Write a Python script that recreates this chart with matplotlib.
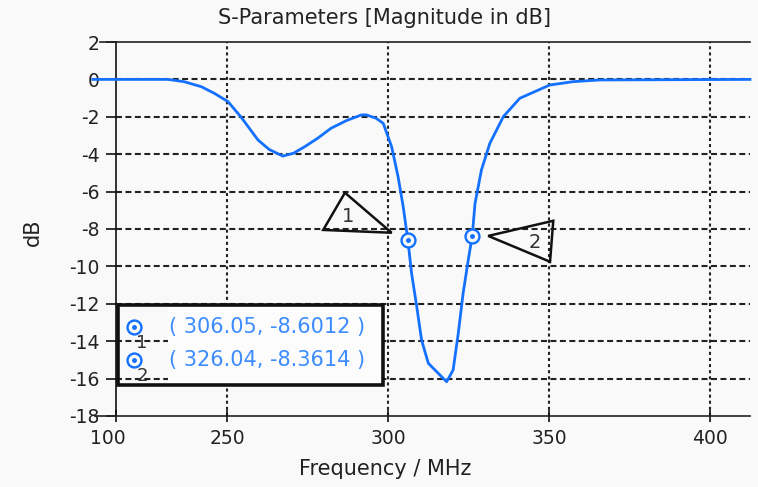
import matplotlib
matplotlib.use('Agg')
import matplotlib.pyplot as plt
from matplotlib.patches import Polygon, Rectangle
from matplotlib.lines import Line2D
from matplotlib.transforms import ScaledTranslation

# ---- data ----
freq_mhz = [208.2, 215.4, 231.5, 236.5, 241.9, 246.0, 250.2, 254.3, 259.5, 263.0,
            267.2, 270.5, 274.0, 278.0, 282.2, 287.0, 291.6, 293.2, 296.2, 298.4,
            301.0, 303.0, 304.6, 306.05, 307.2, 308.8, 310.3, 312.4, 315.5, 318.1,
            320.1, 321.7, 323.2, 324.8, 326.04, 326.9, 328.9, 331.5, 335.7, 340.8,
            350.1, 357.4, 365.7, 412.3]
s_db = [0.0, 0.0, 0.0, -0.12, -0.39, -0.75, -1.19, -2.03, -3.24, -3.75,
        -4.10, -3.95, -3.60, -3.15, -2.61, -2.20, -1.90, -1.90, -2.08, -2.35,
        -3.60, -5.20, -6.81, -8.6012, -10.37, -12.15, -13.94, -15.18, -15.72, -16.17,
        -15.54, -13.58, -11.44, -9.66, -8.3614, -6.63, -4.84, -3.42, -1.99, -1.01,
        -0.30, -0.12, -0.03, 0.0]

marker_freq = [306.05, 326.04]
marker_db = [-8.6012, -8.3614]
marker_ids = ['1', '2']

x_ticks = [215.4, 250, 300, 350, 400]
x_tick_labels = ['100', '250', '300', '350', '400']
y_ticks = list(range(-18, 3, 2))
x_grid = [250, 300, 350, 400]
y_grid = list(range(-16, 1, 2))

plt.rcParams['axes.unicode_minus'] = False
plt.rcParams['lines.scale_dashes'] = False
plt.rcParams['font.family'] = ['DejaVu Sans']

BLUE = '#1470ff'
TBLUE = '#3c8cff'
BG = '#f9f9f9'
W, H = 758, 487

fig = plt.figure(figsize=(W / 100, H / 100), dpi=100, facecolor=BG)
L, R, T, B = 116, 750, 42, 416
ax = fig.add_axes([L / W, 1 - B / H, (R - L) / W, (B - T) / H], facecolor=BG)
ax.set_xlim(215.4, 412.3)
ax.set_ylim(-18, 2)

# grid
for gx in x_grid:
    ax.axvline(gx, color='#222222', lw=1.5, dashes=(2.2, 2.2), zorder=1)
for gy in y_grid:
    ax.axhline(gy, color='#222222', lw=1.5, dashes=(4.3, 2.5), zorder=1)

# spines
for s in ['top', 'right', 'bottom']:
    ax.spines[s].set_visible(False)
ax.spines['left'].set_color('#111111')
ax.spines['left'].set_linewidth(1.2)
fig.add_artist(Line2D([100 / W, R / W], [1 - T / H, 1 - T / H], color='#222222', lw=1.2))
fig.add_artist(Line2D([95 / W, R / W], [1 - B / H, 1 - B / H], color='#222222', lw=1.2))

ax.set_xticks(x_ticks)
ax.set_xticklabels(x_tick_labels)
ax.set_yticks(y_ticks)
ax.tick_params(axis='x', direction='inout', length=9, width=1.2, labelsize=13.5, pad=5,
               colors='#111111', labelcolor='#222222')
ax.tick_params(axis='y', direction='out', length=7, width=1.2, labelsize=13.5, pad=5,
               colors='#111111', labelcolor='#222222')
first = ax.get_xticklabels()[0]
first.set_transform(first.get_transform() + ScaledTranslation(-0.08, 0, fig.dpi_scale_trans))

# curve
ax.plot(freq_mhz, s_db, color=BLUE, lw=2.0, zorder=3, clip_on=False)

# markers
for mf, md in zip(marker_freq, marker_db):
    ax.plot([mf], [md], 'o', ms=10, mfc=BG, mec=BLUE, mew=1.7, zorder=4)
    ax.plot([mf], [md], 'o', ms=2.5, mfc=BLUE, mec=BLUE, zorder=5)

# triangle callouts
tri1 = [(279.75, -8.05), (286.5, -6.06), (301.0, -8.2)]
tri2 = [(331.0, -8.37), (351.2, -7.56), (350.2, -9.75)]
for tri in (tri1, tri2):
    ax.add_patch(Polygon(tri, closed=True, fill=False, ec='#111111', lw=1.8, zorder=4))
ax.text(287.4, -7.34, marker_ids[0], fontsize=14, color='#333333', ha='center', va='center', zorder=5)
ax.text(345.5, -8.73, marker_ids[1], fontsize=14, color='#333333', ha='center', va='center', zorder=5)

# legend-like box
def px2ax(x, y):
    return (x - L) / (R - L), (B - y) / (B - T)

x0, y0 = px2ax(118, 385)
x1, y1 = px2ax(383, 305)
xf, _ = px2ax(168, 0)
ax.add_patch(Rectangle((xf, y0), x1 - xf, y1 - y0, transform=ax.transAxes,
                       fc='#fcfcfc', ec='none', zorder=6))
ax.add_patch(Rectangle((x0, y0), x1 - x0, y1 - y0, transform=ax.transAxes,
                       fc='none', ec='#111111', lw=2.6, zorder=7))
rows_y = [327, 360]
lab_y = [343, 376]
for i, (mf, md) in enumerate(zip(marker_freq, marker_db)):
    mx, my = px2ax(134, rows_y[i])
    ax.plot([mx], [my], 'o', ms=10, mfc='#fcfcfc', mec=BLUE, mew=1.7,
            transform=ax.transAxes, zorder=8, clip_on=False)
    ax.plot([mx], [my], 'o', ms=2.5, mfc=BLUE, mec=BLUE,
            transform=ax.transAxes, zorder=9, clip_on=False)
    lx, ly = px2ax(142, lab_y[i])
    ax.text(lx, ly, marker_ids[i], transform=ax.transAxes, fontsize=13, color='#333333',
            ha='center', va='center', zorder=9)
    tx, ty = px2ax(169, rows_y[i])
    ax.text(tx, ty, f'( {mf:.2f}, {md:.4f} )', transform=ax.transAxes, fontsize=15,
            color=TBLUE, ha='left', va='center', zorder=9)

# titles
fig.text(385 / W, 1 - 18 / H, 'S-Parameters [Magnitude in dB]', fontsize=15,
         color='#222222', ha='center', va='center')
fig.text(385 / W, 1 - 469 / H, 'Frequency / MHz', fontsize=15,
         color='#222222', ha='center', va='center')
fig.text(33 / W, 1 - 232 / H, 'dB', fontsize=15, color='#222222',
         ha='center', va='center', rotation=90)

fig.savefig('out.png', dpi=100, facecolor=BG)
